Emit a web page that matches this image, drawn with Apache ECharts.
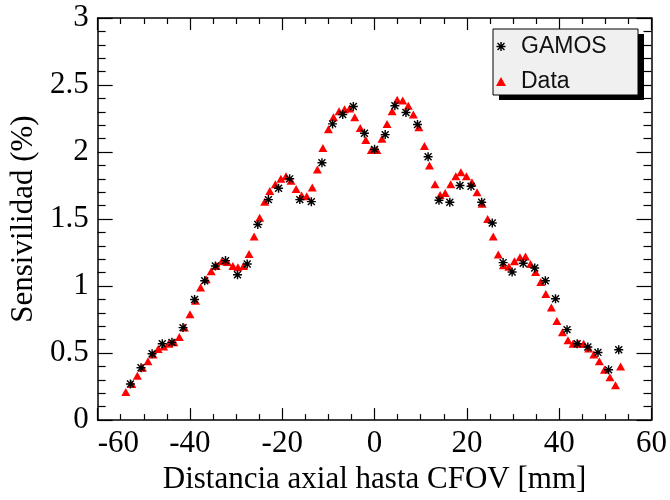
<!DOCTYPE html>
<html>
<head>
<meta charset="utf-8">
<script src="https://cdn.jsdelivr.net/npm/echarts@6/dist/echarts.min.js"></script>
<style>
  html, body { margin: 0; padding: 0; background: #fff; }
  #sens { width: 670px; height: 500px; }
</style>
</head>
<body>
<div id="sens"></div>
<script>
// distancia axial (mm) y sensibilidad (%)
let gamosX = [-52.9, -50.6, -48.2, -46.0, -43.9, -41.5, -39.0, -36.8, -34.5, -32.3,
  -29.7, -27.6, -25.3, -23.0, -20.8, -18.4, -16.2, -13.7, -11.4, -9.1,
  -6.9, -4.6, -2.2, 0.0, 2.3, 4.4, 6.8, 9.3, 11.6, 13.95,
  16.3, 18.5, 20.9, 23.2, 25.5, 27.85, 29.8, 32.2, 34.7, 37.0,
  39.2, 41.7, 43.9, 46.2, 48.4, 50.7, 52.9];
let gamosY = [0.27, 0.39, 0.495, 0.57, 0.58, 0.69, 0.90, 1.04, 1.15, 1.19,
  1.085, 1.165, 1.46, 1.645, 1.73, 1.80, 1.645, 1.63, 1.92, 2.21,
  2.28, 2.34, 2.14, 2.02, 2.13, 2.345, 2.295, 2.205, 1.965, 1.64,
  1.625, 1.75, 1.745, 1.625, 1.47, 1.175, 1.105, 1.17, 1.135, 1.04,
  0.905, 0.675, 0.57, 0.545, 0.505, 0.375, 0.525];

let dataX = [-53.9, -52.6, -51.4, -50.3, -49.1, -48.0, -46.9, -45.7, -44.6, -43.5,
  -42.3, -41.2, -40.0, -38.8, -37.7, -36.5, -35.4, -34.3, -33.1, -31.9,
  -30.7, -29.6, -28.4, -27.2, -26.1, -24.9, -23.8, -22.7, -21.5, -20.3,
  -19.2, -18.1, -17.0, -15.8, -14.7, -13.5, -12.4, -11.2, -10.0, -8.9,
  -7.7, -6.5, -5.4, -4.3, -3.1, -1.9, -0.7, 0.5, 1.6, 2.7,
  3.8, 4.9, 6.1, 7.3, 8.4, 9.6, 10.8, 11.9, 13.1, 14.2,
  15.3, 16.5, 17.6, 18.7, 19.9, 21.1, 22.2, 23.3, 24.5, 25.7,
  26.8, 27.9, 29.1, 30.3, 31.5, 32.7, 33.8, 34.9, 36.0, 37.1,
  38.3, 39.5, 40.7, 41.9, 43.0, 44.2, 45.3, 46.4, 47.5, 48.7,
  49.8, 51.0, 52.2, 53.3];
let dataY = [0.21, 0.27, 0.33, 0.39, 0.44, 0.49, 0.53, 0.55, 0.57, 0.58,
  0.62, 0.69, 0.79, 0.89, 0.99, 1.05, 1.11, 1.15, 1.185, 1.18,
  1.15, 1.14, 1.15, 1.24, 1.37, 1.51, 1.63, 1.71, 1.76, 1.80,
  1.82, 1.785, 1.725, 1.675, 1.67, 1.735, 1.87, 2.03, 2.17, 2.26,
  2.305, 2.32, 2.325, 2.26, 2.18, 2.09, 2.015, 2.015, 2.10, 2.21,
  2.305, 2.39, 2.385, 2.345, 2.28, 2.185, 2.045, 1.90, 1.76, 1.68,
  1.695, 1.76, 1.82, 1.85, 1.82, 1.775, 1.70, 1.615, 1.50, 1.37,
  1.235, 1.155, 1.145, 1.185, 1.215, 1.22, 1.165, 1.105, 1.03, 0.94,
  0.84, 0.74, 0.655, 0.595, 0.57, 0.57, 0.57, 0.535, 0.49, 0.44,
  0.375, 0.32, 0.26, 0.40];

let xMin = -60, xMax = 60, xStep = 20;
let yMin = 0, yMax = 3, yStep = 0.5;

// asterisco tipo ROOT (marker 3) y triangulo para la leyenda
let asterisk = 'path://M4.2,0 L5.8,0 L5.8,10 L4.2,10 Z M0,4.2 L10,4.2 L10,5.8 L0,5.8 Z ' +
  'M0.6,1.7 L1.7,0.6 L9.4,8.3 L8.3,9.4 Z M8.3,0.6 L9.4,1.7 L1.7,9.4 L0.6,8.3 Z';
let triIcon = 'path://M5,0 L10,9 L0,9 Z';

let serif = '"Liberation Serif", "DejaVu Serif", serif';

let chartDom = document.getElementById('sens');
let myChart = echarts.init(chartDom);
let option;

function xAxisOf(pos, labels) {
  return {
    type: 'value',
    position: pos,
    min: xMin,
    max: xMax,
    interval: xStep,
    name: labels ? 'Distancia axial hasta CFOV [mm]' : '',
    nameLocation: 'middle',
    nameGap: 36,
    nameTextStyle: { fontFamily: serif, fontSize: 31, color: '#000' },
    axisLine: { show: true, onZero: false, lineStyle: { color: '#000', width: 1.5 } },
    axisTick: { show: true, inside: true, length: 12, lineStyle: { color: '#000', width: 1.2 } },
    minorTick: { show: true, splitNumber: 4, length: 6, lineStyle: { color: '#000', width: 1.2 } },
    axisLabel: {
      show: labels, margin: 8, fontFamily: serif, fontSize: 31, color: '#000',
      alignMinLabel: 'left'
    },
    splitLine: { show: false }
  };
}

function yAxisOf(pos, labels) {
  return {
    type: 'value',
    position: pos,
    min: yMin,
    max: yMax,
    interval: yStep,
    name: labels ? 'Sensivilidad (%)' : '',
    nameLocation: 'middle',
    nameGap: 54,
    nameTextStyle: { fontFamily: serif, fontSize: 31, color: '#000' },
    axisLine: { show: true, onZero: false, lineStyle: { color: '#000', width: 1.5 } },
    axisTick: { show: true, inside: true, length: 15, lineStyle: { color: '#000', width: 1.2 } },
    minorTick: { show: true, splitNumber: 5, length: 8, lineStyle: { color: '#000', width: 1.2 } },
    axisLabel: { show: labels, margin: 9, fontFamily: serif, fontSize: 31, color: '#000' },
    splitLine: { show: false }
  };
}

option = {
  backgroundColor: '#fff',
  animation: false,
  grid: { left: 97, right: 18, top: 18, bottom: 70 },
  xAxis: [xAxisOf('bottom', true), xAxisOf('top', false)],
  yAxis: [yAxisOf('left', true), yAxisOf('right', false)],
  // caja de la leyenda con sombra negra
  graphic: [
    { type: 'rect', z: 10, shape: { x: 499, y: 34, width: 145, height: 66 }, style: { fill: '#000' } },
    { type: 'rect', z: 11, shape: { x: 493, y: 29, width: 145, height: 66 },
      style: { fill: '#f0f0f0', stroke: '#000', lineWidth: 1 } }
  ],
  legend: {
    data: [
      { name: 'GAMOS', icon: asterisk },
      { name: 'Data', icon: triIcon }
    ],
    orient: 'vertical',
    left: 496,
    top: 35,
    padding: 0,
    itemGap: 12,
    itemWidth: 30,
    itemHeight: 9,
    z: 20,
    textStyle: { fontFamily: '"Liberation Sans", Arial, sans-serif', fontSize: 23, color: '#111' }
  },
  series: [
    {
      name: 'Data',
      type: 'scatter',
      symbol: 'triangle',
      symbolSize: [9, 8],
      itemStyle: { color: '#ff0000', opacity: 1 },
      data: dataX.map(function (x, i) { return [x, dataY[i]]; }),
      z: 2
    },
    {
      name: 'GAMOS',
      type: 'scatter',
      symbol: asterisk,
      symbolSize: 9,
      itemStyle: { color: '#000', opacity: 1 },
      data: gamosX.map(function (x, i) { return [x, gamosY[i]]; }),
      z: 3
    }
  ]
};

myChart.setOption(option);

window.addEventListener('resize', () => {
  myChart.resize();
});
</script>
</body>
</html>
